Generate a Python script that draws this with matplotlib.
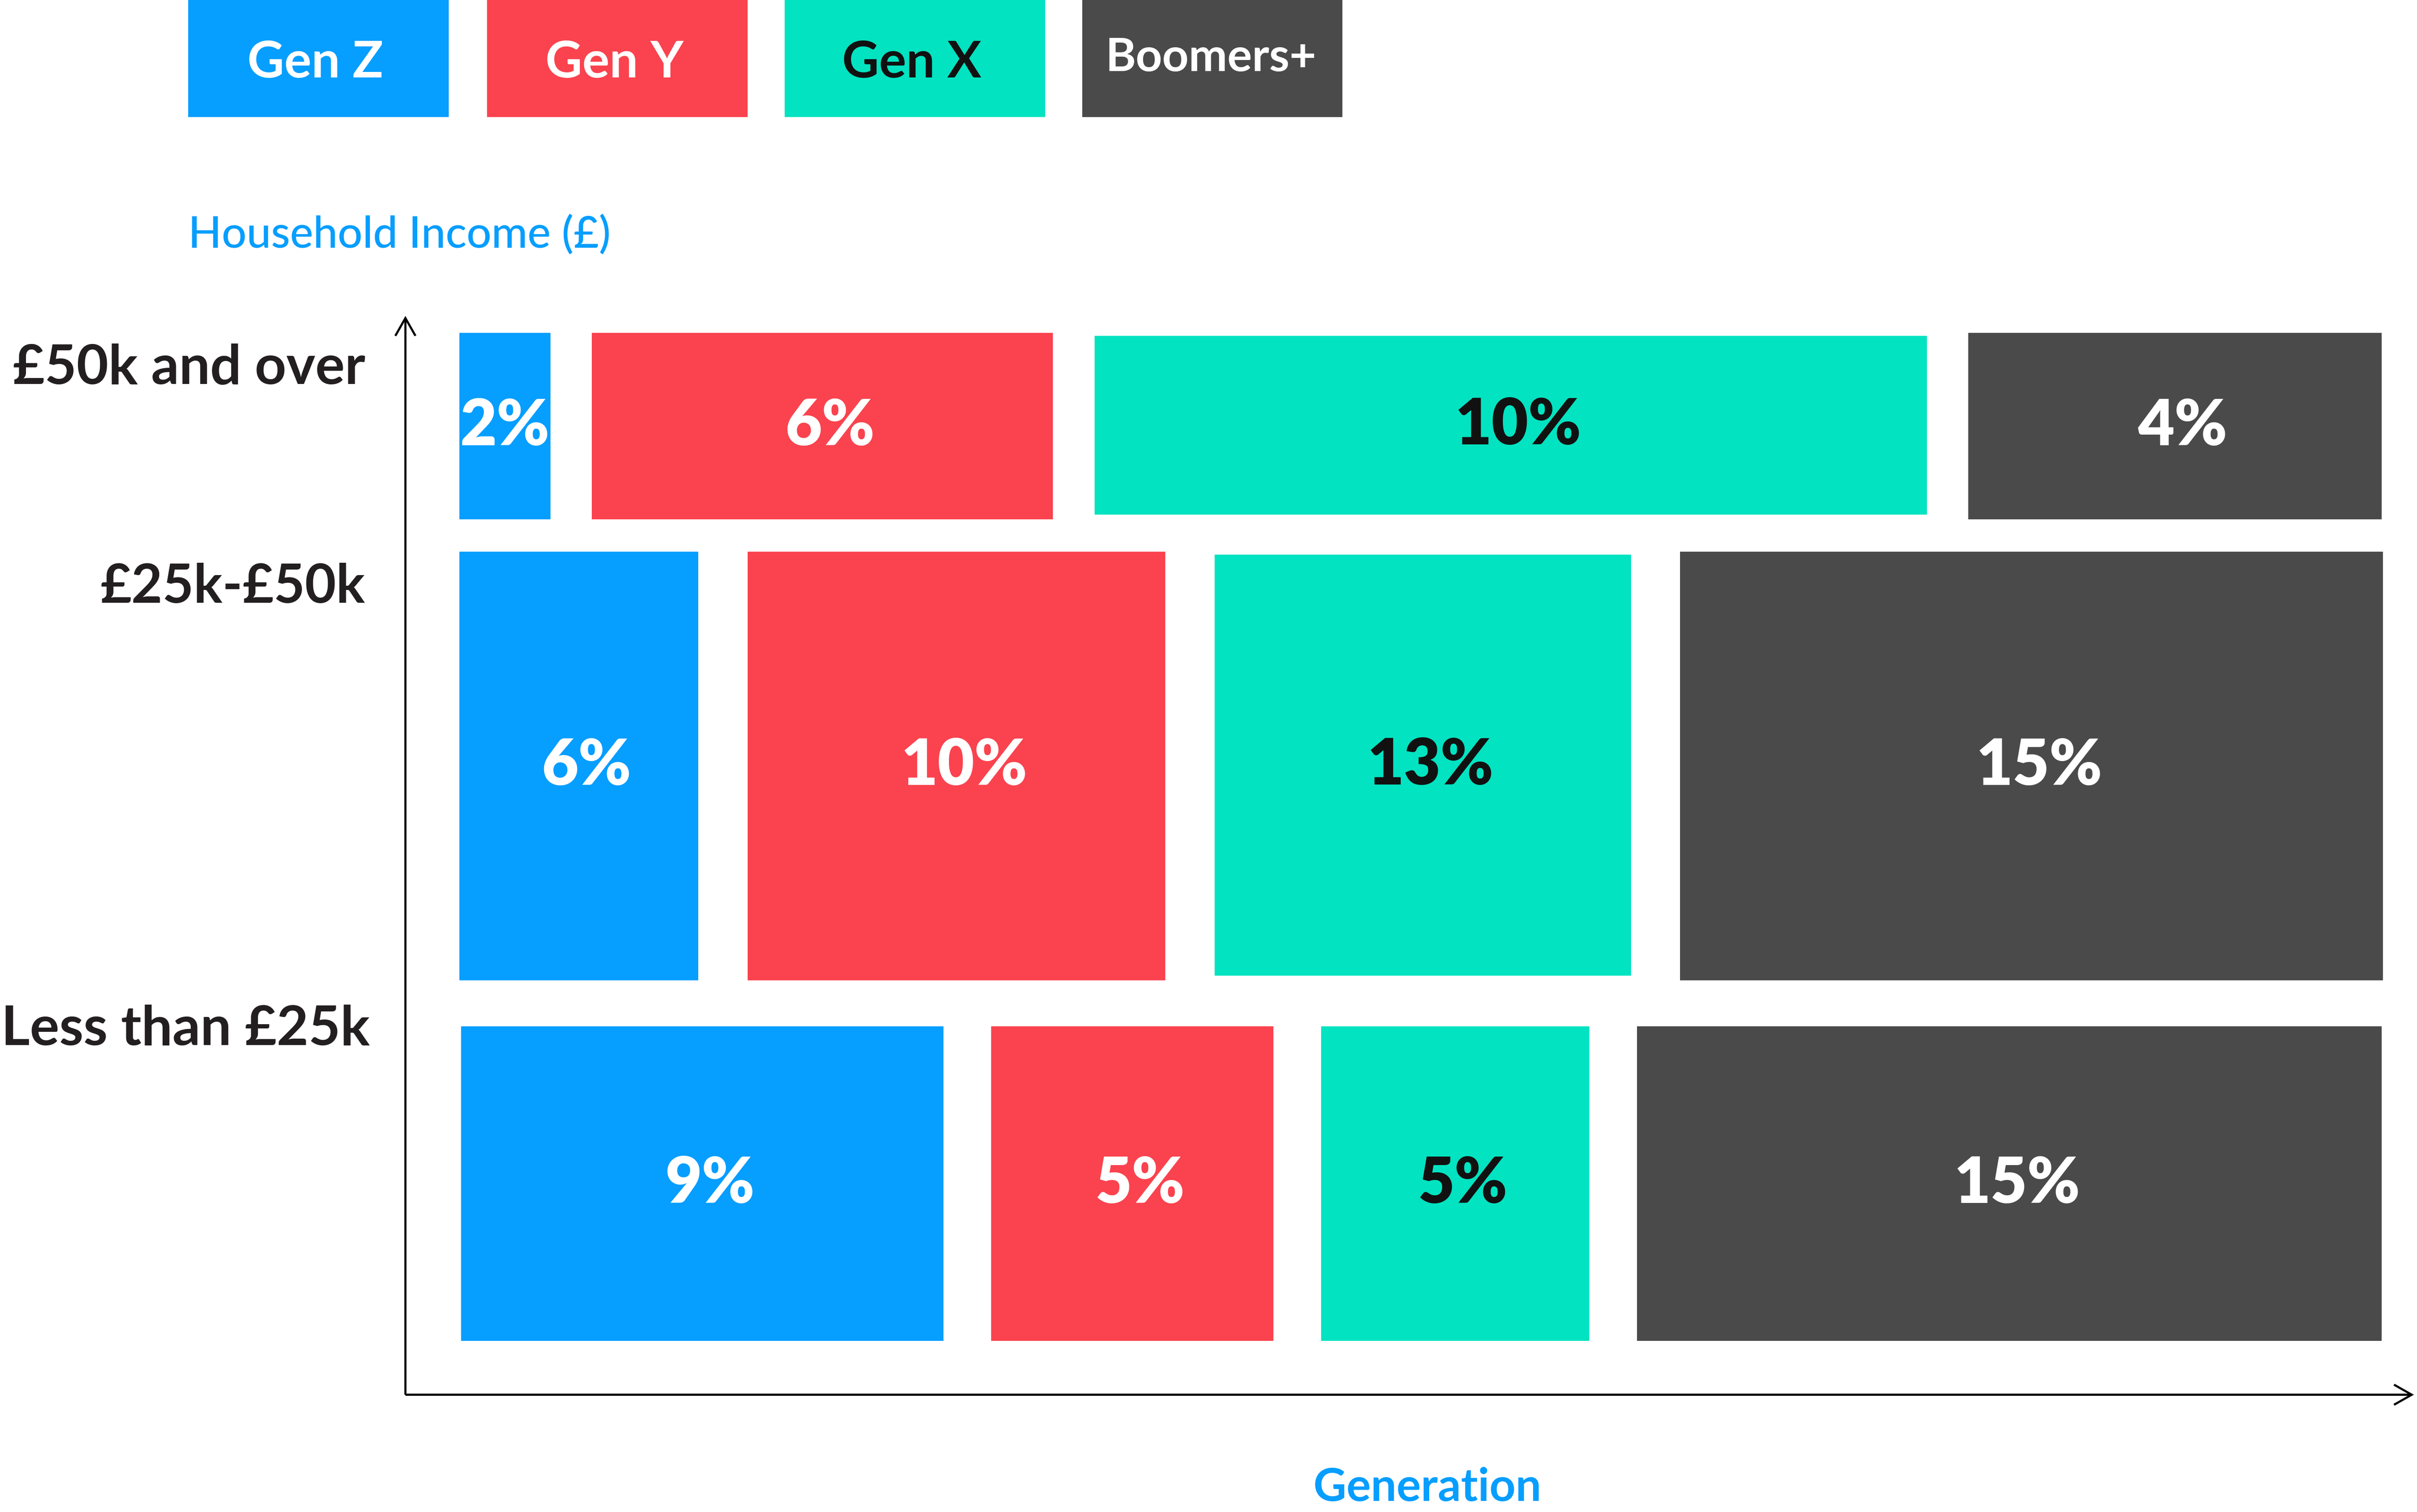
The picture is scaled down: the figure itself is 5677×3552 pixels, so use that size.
import matplotlib
matplotlib.use("Agg")
import matplotlib.pyplot as plt
from matplotlib.patches import FancyArrowPatch
import numpy as np

# ---------------- data ----------------
generations = ["Gen Z", "Gen Y", "Gen X", "Boomers+"]
income_bands = ["£50k and over", "£25k-£50k", "Less than £25k"]
# percentage shown in each cell (rows = income bands, cols = generations)
values_50k_plus = [2, 6, 10, 4]
values_25k_50k = [6, 10, 13, 15]
values_under_25k = [9, 5, 5, 15]
# cell widths (relative size of each block)
widths_50k_plus = [59, 299, 540, 268]
widths_25k_50k = [155, 271, 270, 456]
widths_under_25k = [313, 183, 174, 483]
# row heights (relative size of each band)
row_heights = [121, 278, 204]

x_label = "Generation"
y_label = "Household Income (£)"

# ---------------- style ----------------
colors = ["#069EFF", "#FA434E", "#02E3C1", "#4A4A4A"]
label_colors = ["white", "white", "#111111", "white"]
text_dark = "#231F20"
blue_text = "#069EFF"
FONT = ["Lato", "DejaVu Sans"]

W_PX, H_PX = 5677, 3552
DPI = 100
fig = plt.figure(figsize=(W_PX / DPI, H_PX / DPI), dpi=DPI)
ax = fig.add_axes([0, 0, 1, 1])
U_W, U_H = 1568, 981.1
ax.set_xlim(0, U_W)
ax.set_ylim(U_H, 0)
ax.axis("off")

# layout
row_tops = [216, 358, 666]
row_lefts = [298, 298, 299]
row_gaps = [27, 32, 31]
genx_inset = [2, 2, 0]
label_dx = 5  # labels sit slightly right of the cell centre in the original

all_values = [values_50k_plus, values_25k_50k, values_under_25k]
all_widths = [widths_50k_plus, widths_25k_50k, widths_under_25k]

for r, (vals, wids) in enumerate(zip(all_values, all_widths)):
    wids = np.array(wids, dtype=float)
    lefts = row_lefts[r] + np.concatenate([[0], np.cumsum(wids[:-1] + row_gaps[r])])
    tops = np.full(len(wids), float(row_tops[r]))
    hts = np.full(len(wids), float(row_heights[r]))
    tops[2] += genx_inset[r]
    hts[2] -= 2 * genx_inset[r] + (1 if genx_inset[r] else 0)
    ax.bar(lefts, hts, width=wids, bottom=tops, align="edge",
           color=colors, linewidth=0)
    for i, v in enumerate(vals):
        dx = label_dx if wids[i] > 100 else 0
        ax.text(lefts[i] + wids[i] / 2 + dx, tops[i] + hts[i] / 2 - 3, f"{v}%",
                ha="center", va="center_baseline", fontsize=107,
                fontweight="heavy", color=label_colors[i], family=FONT)
    # row label
    ax.text(237 if r < 2 else 240, row_tops[r] + (20 if r < 2 else -1),
            income_bands[r], ha="right", va="center_baseline",
            fontsize=93 if r != 1 else 91, fontweight="bold",
            color=text_dark, family=FONT)

# legend boxes
leg_lefts = np.array([122, 316, 509, 702], dtype=float)
leg_w = 169
ax.bar(leg_lefts, [76] * 4, width=leg_w, bottom=0, align="edge",
       color=colors, linewidth=0)
for i, g in enumerate(generations):
    ax.text(leg_lefts[i] + leg_w / 2 + (-2 if i < 3 else -1),
            38 if i < 3 else 35, g, ha="center", va="center_baseline",
            fontsize=86 if i < 3 else 78, fontweight="bold",
            color=label_colors[i], family=FONT)

# axis titles
ax.text(122, 150, y_label, ha="left", va="center_baseline", fontsize=74,
        color=blue_text, family=FONT, fontweight="medium")
ax.text(926, 963, x_label, ha="center", va="center_baseline", fontsize=77,
        color=blue_text, family=FONT, fontweight="bold")

# axes arrows
arrow_kw = dict(arrowstyle="->,head_length=30,head_width=17",
                mutation_scale=1, lw=3.6, color="black",
                shrinkA=0, shrinkB=0, joinstyle="miter", capstyle="butt")
ax.add_patch(FancyArrowPatch((263, 905), (263, 205), **arrow_kw))
ax.add_patch(FancyArrowPatch((263, 905), (1566, 905), **arrow_kw))

fig.savefig("out.png", dpi=DPI, facecolor="white")
